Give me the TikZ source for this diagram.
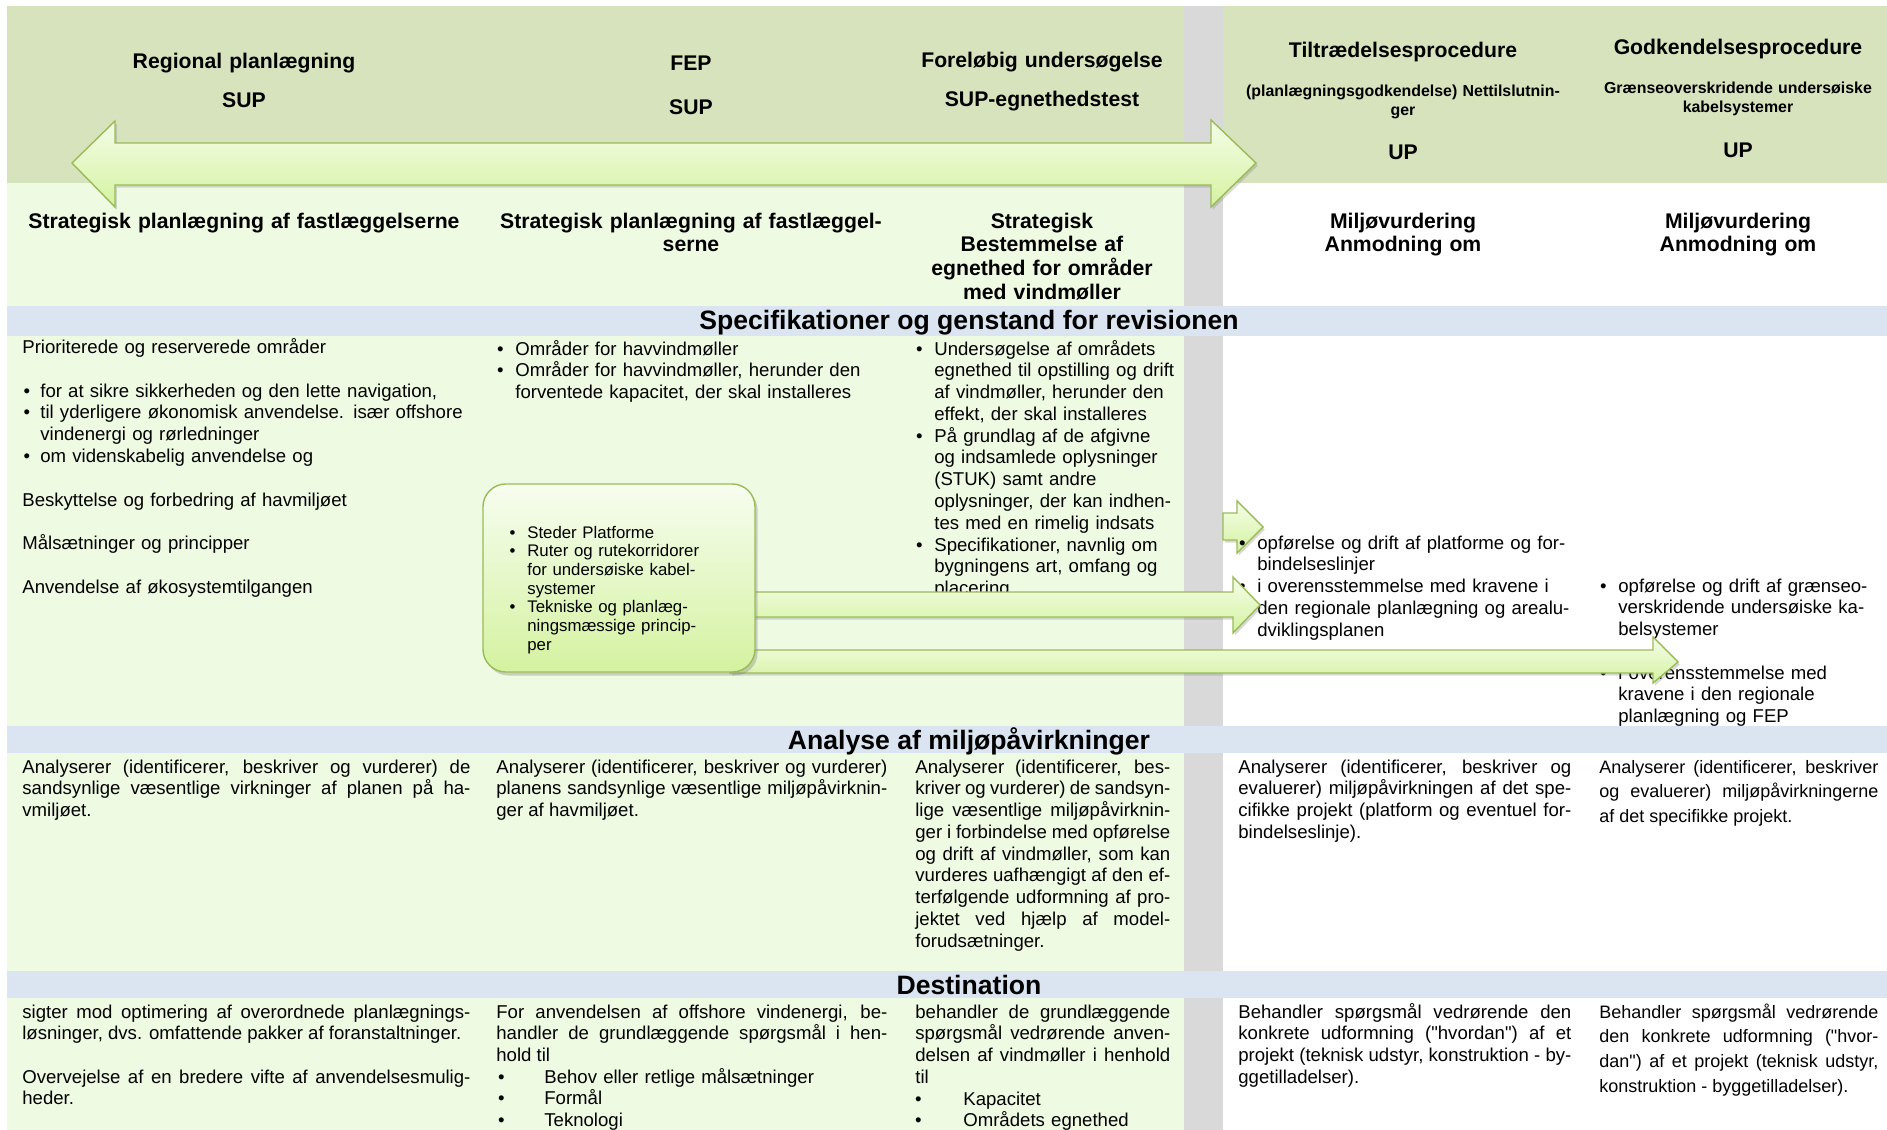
\documentclass[tikz,border=0pt]{standalone}
\usepackage{fontspec}
\setmainfont{Liberation Sans}[Ligatures=TeXOff]
\usetikzlibrary{shadows}

\definecolor{hovedgron}{RGB}{215,227,188}
\definecolor{lysgron}{RGB}{239,250,227}
\definecolor{baandblaa}{RGB}{219,229,241}
\definecolor{skillegraa}{RGB}{217,217,217}
\definecolor{pilkant}{RGB}{155,187,89}
\definecolor{piltop}{RGB}{245,253,232}
\definecolor{pilbund}{RGB}{212,242,160}
\definecolor{kassetop}{RGB}{247,253,240}

\newcommand{\bul}[1][6.7pt]{\leavevmode\llap{\textbullet\hspace{#1}}}

\begin{document}
\begin{tikzpicture}[scale=0.2,
	overskrift/.style={font=\fontsize{12.06}{13.5}\selectfont\bfseries, align=center, anchor=base, text width=#1},
	overskrift/.default=150pt,
	undertekst/.style={font=\fontsize{9.05}{11.3}\selectfont\bfseries, align=center, anchor=base, text width=190pt},
	baand/.style={font=\fontsize{15.13}{17}\selectfont\bfseries, anchor=base},
	broed/.style={font=\fontsize{10.58}{12.4}\selectfont, align=left, anchor=base west, text width=#1},
	lige/.style={broed=#1, align=justify},
	smal/.style={font=\fontsize{10.24}{14.2}\selectfont, align=justify, anchor=base west, text width=158.8pt},
	kassetekst/.style={font=\fontsize{9.56}{10.64}\selectfont, align=left, anchor=base west, text width=120pt},
	pil/.style={draw=pilkant, line width=0.8pt, top color=piltop, bottom color=pilbund, drop shadow={opacity=0.3, shadow xshift=1pt, shadow yshift=-1.5pt}}]
	\tikzstyle{every node}+=[inner sep=0pt]
	\useasboundingbox (0,0) rectangle (188.7,-113.0);
	\fill [hovedgron] (0.7,-0.6) rectangle (118.4,-18.3);
	\fill [hovedgron] (122.3,-0.6) rectangle (188.7,-18.3);
	\fill [lysgron] (0.7,-18.3) rectangle (118.4,-113.0);
	\fill [skillegraa] (118.4,-0.6) rectangle (122.3,-113.0);
	\fill [baandblaa] (0.7,-30.6) rectangle (188.7,-33.6);
	\fill [baandblaa] (0.7,-72.6) rectangle (188.7,-75.3);
	\fill [baandblaa] (0.7,-97.1) rectangle (188.7,-99.8);
	\draw [pil] (7.2,-16.3) -- (11.5,-12.1) -- (11.5,-14.3) -- (121.1,-14.3) -- (121.1,-12.0) -- (125.6,-16.3) -- (121.1,-20.7) -- (121.1,-18.5) -- (11.5,-18.5) -- (11.5,-20.7) -- cycle;
	\draw [pil] (122.3,-51.3) -- (123.7,-51.3) -- (123.7,-50.1) -- (126.3,-52.7) -- (123.7,-55.3) -- (123.7,-54.0) -- (122.3,-54.0) -- cycle;
	\draw (24.4,-6.8) node [overskrift=250pt] (regional) {Regional planlægning};
	\draw (24.4,-10.7) node [overskrift=250pt] (sup1) {SUP};
	\draw (69.1,-7.0) node [overskrift] (fep) {FEP};
	\draw (69.1,-11.4) node [overskrift] (sup2) {SUP};
	\draw (104.2,-6.7) node [overskrift] (forelobig) {Foreløbig undersøgelse};
	\draw (104.2,-10.6) node [overskrift] (egnethedstest) {SUP-egnethedstest};
	\draw (140.3,-5.7) node [overskrift] (tiltraedelse) {Tiltrædelsesprocedure};
	\draw (140.3,-9.6) node [undertekst] (nettilslutning) {(planlægningsgodkendelse) Nettilslutnin-\\ger};
	\draw (140.3,-15.9) node [overskrift] (up1) {UP};
	\draw (173.8,-5.4) node [overskrift] (godkendelse) {Godkendelsesprocedure};
	\draw (173.8,-9.3) node [undertekst] (kabelsystemer) {Grænseoverskridende undersøiske\\kabelsystemer};
	\draw (173.8,-15.7) node [overskrift] (up2) {UP};
	\draw (24.4,-22.8) node [overskrift=253pt] (strat1) {Strategisk planlægning af fastlæggelserne};
	\draw (69.1,-22.8) node [overskrift=228pt] (strat2) {Strategisk planlægning af fastlæggel-\\serne};
	\draw (104.2,-22.8) node [overskrift] (strat3) {Strategisk\\Bestemmelse af\\egnethed for områder\\med vindmøller};
	\draw (140.3,-22.8) node [overskrift] (miljo1) {Miljøvurdering\\Anmodning om};
	\draw (173.8,-22.8) node [overskrift] (miljo2) {Miljøvurdering\\Anmodning om};
	\draw (96.9,-32.9) node [baand] (spec) {Specifikationer og genstand for revisionen};
	\draw (96.9,-74.9) node [baand] (analyse) {Analyse af miljøpåvirkninger};
	\draw (96.9,-99.4) node [baand] (destination) {Destination};
	\draw (2.2,-35.3) node [broed=253pt] (omraader) {Prioriterede og reserverede områder};
	\draw (4.0,-39.7) node [broed=245pt] (formaal) {\bul[5.8pt]for at sikre sikkerheden og den lette navigation,\\\bul[5.8pt]til yderligere økonomisk anvendelse. især offshore\\vindenergi og rørledninger\\\bul[5.8pt]om videnskabelig anvendelse og};
	\draw (2.2,-50.6) node [broed=253pt] (havmiljo) {Beskyttelse og forbedring af havmiljøet\\[12.4pt]Målsætninger og principper\\[12.4pt]Anvendelse af økosystemtilgangen};
	\draw (51.5,-35.5) node [broed=228pt] (havvind) {\bul Områder for havvindmøller\\\bul Områder for havvindmøller, herunder den\\forventede kapacitet, der skal installeres};
	\draw (93.4,-35.5) node [broed=150pt] (undersogelse) {\bul Undersøgelse af områdets\\egnethed til opstilling og drift\\af vindmøller, herunder den\\effekt, der skal installeres\\\bul På grundlag af de afgivne\\og indsamlede oplysninger\\(STUK) samt andre\\oplysninger, der kan indhen-\\tes med en rimelig indsats\\\bul Specifikationer, navnlig om\\bygningens art, omfang og\\placering};
	\draw (125.7,-54.9) node [broed=200pt] (platforme) {\bul opførelse og drift af platforme og for-\\bindelseslinjer\\\bul i overensstemmelse med kravene i\\den regionale planlægning og arealu-\\dviklingsplanen};
	\draw (161.8,-59.2) node [broed=165pt] (graenseo) {\bul opførelse og drift af grænseo-\\verskridende undersøiske ka-\\belsystemer\\[12.4pt]\bul i overensstemmelse med\\kravene i den regionale\\planlægning og FEP};
	\draw (2.2,-77.3) node [lige=255pt] (analyse1) {Analyserer (identificerer, beskriver og vurderer) de\linebreak sandsynlige væsentlige virkninger af planen på ha-\linebreak vmiljøet.};
	\draw (49.6,-77.3) node [lige=222.5pt] (analyse2) {Analyserer (identificerer, beskriver og vurderer)\linebreak planens sandsynlige væsentlige miljøpåvirknin-\linebreak ger af havmiljøet.};
	\draw (91.5,-77.3) node [lige=145.1pt] (analyse3) {Analyserer (identificerer, bes-\linebreak kriver og vurderer) de sandsyn-\linebreak lige væsentlige miljøpåvirknin-\linebreak ger i forbindelse med opførelse\linebreak og drift af vindmøller, som kan\linebreak vurderes uafhængigt af den ef-\linebreak terfølgende udformning af pro-\linebreak jektet ved hjælp af model-\linebreak forudsætninger.};
	\draw (123.8,-77.3) node [lige=189.5pt] (analyse4) {Analyserer (identificerer, beskriver og\linebreak evaluerer) miljøpåvirkningen af det spe-\linebreak cifikke projekt (platform og eventuel for-\linebreak bindelseslinje).};
	\draw (159.9,-77.3) node [smal] (analyse5) {Analyserer (identificerer, beskriver\linebreak og evaluerer) miljøpåvirkningerne\linebreak af det specifikke projekt.};
	\draw (2.2,-101.8) node [lige=255pt] (dest1a) {sigter mod optimering af overordnede planlægnings-\linebreak løsninger, dvs. omfattende pakker af foranstaltninger.};
	\draw (2.2,-108.3) node [lige=255pt] (dest1b) {Overvejelse af en bredere vifte af anvendelsesmulig-\linebreak heder.};
	\draw (49.6,-101.8) node [lige=222.5pt] (dest2a) {For anvendelsen af offshore vindenergi, be-\linebreak handler de grundlæggende spørgsmål i hen-\linebreak hold til};
	\draw (54.4,-108.3) node [broed=180pt] (dest2b) {\bul[22.6pt]Behov eller retlige målsætninger\\\bul[22.6pt]Formål\\\bul[22.6pt]Teknologi};
	\draw (91.5,-101.8) node [lige=145.1pt] (dest3a) {behandler de grundlæggende\linebreak spørgsmål vedrørende anven-\linebreak delsen af vindmøller i henhold\linebreak til};
	\draw (96.3,-110.5) node [broed=120pt] (dest3b) {\bul[23.8pt]Kapacitet\\\bul[23.8pt]Områdets egnethed};
	\draw (123.8,-101.8) node [lige=189.5pt] (dest4) {Behandler spørgsmål vedrørende den\linebreak konkrete udformning ("hvordan") af et\linebreak projekt (teknisk udstyr, konstruktion - by-\linebreak ggetilladelser).};
	\draw (159.9,-101.8) node [smal] (dest5) {Behandler spørgsmål vedrørende\linebreak den konkrete udformning ("hvor-\linebreak dan") af et projekt (teknisk udstyr,\linebreak konstruktion - byggetilladelser).};
	\draw [pil] (74.0,-59.2) -- (123.3,-59.2) -- (123.3,-57.7) -- (126.0,-60.5) -- (123.3,-63.3) -- (123.3,-61.7) -- (74.0,-61.7) -- cycle;
	\draw [pil] (73.0,-65.0) -- (165.3,-65.0) -- (165.3,-63.7) -- (167.8,-66.2) -- (165.3,-68.3) -- (165.3,-67.3) -- (73.0,-67.3) -- cycle;
	\draw (61.9,-57.8) node [draw=pilkant, line width=0.8pt, top color=kassetop, bottom color=pilbund, rounded corners=13pt, minimum width=154.8pt, minimum height=107pt, drop shadow={opacity=0.35, shadow xshift=1.5pt, shadow yshift=-2pt}] (kasse) {};
	\draw (52.7,-53.8) node [kassetekst] (kasseliste) {\bul Steder Platforme\\\bul Ruter og rutekorridorer\\for undersøiske kabel-\\systemer\\\bul Tekniske og planlæg-\\ningsmæssige princip-\\per};
\end{tikzpicture}
\end{document}
